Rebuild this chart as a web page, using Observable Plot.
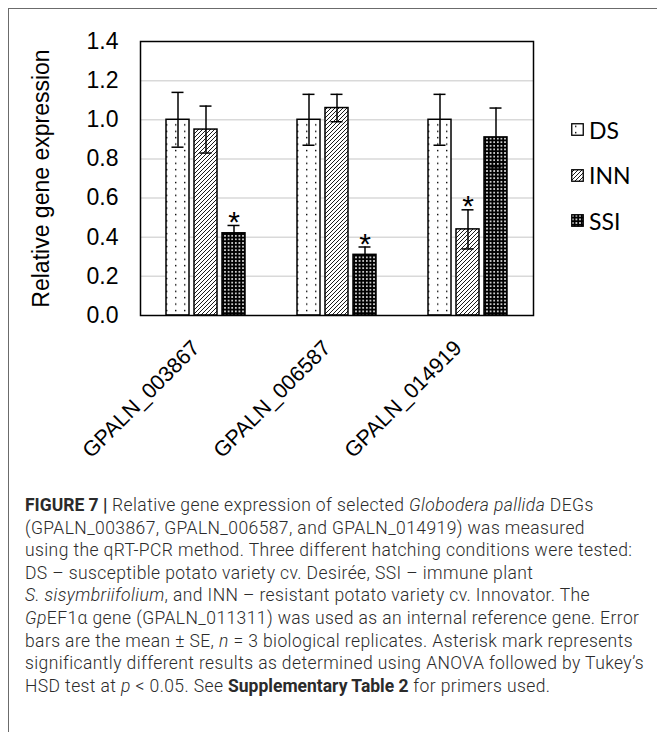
<!DOCTYPE html>
<html>
<head>
<meta charset="utf-8">
<script src="https://cdn.jsdelivr.net/npm/d3@7"></script>
<script src="https://cdn.jsdelivr.net/npm/@observablehq/plot@0.6"></script>
<style>
  html, body { margin: 0; padding: 0; background: #fff; }
  #page { position: relative; width: 657px; height: 732px; overflow: hidden; background: #fff; }
  #border { position: absolute; left: 8px; top: 8px; width: 800px; height: 900px;
            border-top: 1.5px solid #6b6b6b; border-left: 1.5px solid #6b6b6b; }
  #chart { position: absolute; left: 0; top: 0; }
  #legend { position: absolute; left: 571px; top: 107px; font-family: Lato, "Open Sans", sans-serif; font-size: 23px; color: #000; }
  #legend .item { display: flex; align-items: center; height: 45.5px; }
  #legend svg { margin-right: 5px; }
  #caption { position: absolute; left: 25px; top: 494px; font-family: Roboto, "Liberation Sans", sans-serif;
             font-weight: 300; font-size: 17.5px; letter-spacing: 0.4px; line-height: 22.6px; color: #2b2b2b; white-space: nowrap; }
  #caption b { font-weight: 700; letter-spacing: 0; }
</style>
</head>
<body>
<svg width="0" height="0" style="position:absolute">
  <defs>
    <pattern id="pat-ds" patternUnits="userSpaceOnUse" width="9" height="6.4">
      <rect width="9" height="6.4" fill="#fff"/>
      <rect x="4" y="2.6" width="1.4" height="1.4" fill="#000"/>
    </pattern>
    <pattern id="pat-inn" patternUnits="userSpaceOnUse" width="4" height="4">
      <rect width="4" height="4" fill="#fff"/>
      <path d="M-1,1 l2,-2 M0,4 l4,-4 M3,5 l2,-2" stroke="#000" stroke-width="0.9"/>
    </pattern>
    <pattern id="pat-ssi" patternUnits="userSpaceOnUse" width="3.6" height="3.6">
      <rect width="3.6" height="3.6" fill="#000"/>
      <rect x="1" y="1" width="1.6" height="1.6" fill="#fff"/>
    </pattern>
  </defs>
</svg>
<div id="page">
  <div id="border"></div>
  <div id="chart"></div>
  <div id="legend"></div>
  <div id="caption">
    <b>FIGURE 7 |</b> Relative gene expression of selected <i>Globodera pallida</i> DEGs<br>
    (GPALN_003867, GPALN_006587, and GPALN_014919) was measured<br>
    using the qRT-PCR method. Three different hatching conditions were tested:<br>
    DS – susceptible potato variety cv. Desirée, SSI – immune plant<br>
    <i>S. sisymbriifolium</i>, and INN – resistant potato variety cv. Innovator. The<br>
    <i>Gp</i>EF1α gene (GPALN_011311) was used as an internal reference gene. Error<br>
    bars are the mean ± SE, <i>n</i> = 3 biological replicates. Asterisk mark represents<br>
    significantly different results as determined using ANOVA followed by Tukey’s<br>
    HSD test at <i>p</i> &lt; 0.05. See <b>Supplementary Table 2</b> for primers used.
  </div>
</div>
<script>
// ---- data ----
const genes = ["GPALN_003867", "GPALN_006587", "GPALN_014919"];
const conditions = ["DS", "INN", "SSI"];
const dsMean = [1.00, 1.00, 1.00];
const dsSE = [0.14, 0.13, 0.13];
const innMean = [0.95, 1.06, 0.44];
const innSE = [0.12, 0.07, 0.10];
const ssiMean = [0.42, 0.31, 0.91];
const ssiSE = [0.04, 0.04, 0.15];
const dsSig = [false, false, false];
const innSig = [false, false, true];
const ssiSig = [true, true, false];
const yTicks = [0, 0.2, 0.4, 0.6, 0.8, 1.0, 1.2, 1.4];
const gridTicks = [0.2, 0.4, 0.6, 0.8, 1.0, 1.2];

const patterns = {DS: "url(#pat-ds)", INN: "url(#pat-inn)", SSI: "url(#pat-ssi)"};
const series = {DS: [dsMean, dsSE, dsSig], INN: [innMean, innSE, innSig], SSI: [ssiMean, ssiSE, ssiSig]};
const table = [];
genes.forEach((g, i) => conditions.forEach(c => {
  const [m, s, sig] = series[c];
  table.push({gene: g, condition: c, mean: m[i], se: s[i], sig: sig[i]});
}));

const chart = Plot.plot({
  width: 657,
  height: 470,
  marginLeft: 140,
  marginRight: 124,
  marginTop: 41,
  marginBottom: 155,
  style: {fontFamily: "'Liberation Sans', Arial, sans-serif", fontSize: "23px", color: "#000", background: "transparent", overflow: "visible"},
  fx: {domain: genes, padding: 0, label: null, axis: null},
  x: {domain: conditions, paddingInner: 0.193, paddingOuter: 0.895, axis: null},
  y: {domain: [0, 1.4], axis: null},
  color: {type: "identity"},
  marks: [
    Plot.gridY(gridTicks, {stroke: "#d9d9d9", strokeOpacity: 1, strokeWidth: 1.5}),
    Plot.axisY(yTicks, {tickSize: 0, tickPadding: 22, tickFormat: d => d.toFixed(1), fontSize: 23,
      label: "Relative gene expression", labelAnchor: "center", labelArrow: "none", labelOffset: 108}),
    Plot.axisFx({anchor: "bottom", tickRotate: -45, tickSize: 0, tickPadding: 29, dx: -10, fontSize: 21.5, label: null}),
    Plot.barY(table, {fx: "gene", x: "condition", y: "mean", fill: d => patterns[d.condition], stroke: "#000", strokeWidth: 1.5}),
    Plot.ruleX(table, {fx: "gene", x: "condition", y1: d => d.mean - d.se, y2: d => d.mean + d.se, stroke: "#000", strokeWidth: 1.5}),
    Plot.tickY(table, {fx: "gene", x: "condition", y: d => d.mean + d.se, insetLeft: 5.5, insetRight: 5.5, stroke: "#000", strokeWidth: 1.5}),
    Plot.tickY(table, {fx: "gene", x: "condition", y: d => d.mean - d.se, insetLeft: 5.5, insetRight: 5.5, stroke: "#000", strokeWidth: 1.5}),
    Plot.text(table.filter(d => d.sig), {fx: "gene", x: "condition", y: d => d.mean + d.se, text: () => "*", fontSize: 30, lineAnchor: "middle", dy: -3}),
    Plot.frame({facet: "super", stroke: "#000", strokeWidth: 1.5})
  ]
});
document.getElementById("chart").appendChild(chart);

// legend
const legend = d3.select("#legend");
conditions.forEach(c => {
  const item = legend.append("div").attr("class", "item");
  const s = item.append("svg").attr("width", 13).attr("height", 13);
  s.append("rect").attr("x", 0.75).attr("y", 0.75).attr("width", 11.5).attr("height", 11.5)
    .attr("fill", patterns[c]).attr("stroke", "#000").attr("stroke-width", 1.3);
  item.append("span").text(c);
});
</script>
</body>
</html>
